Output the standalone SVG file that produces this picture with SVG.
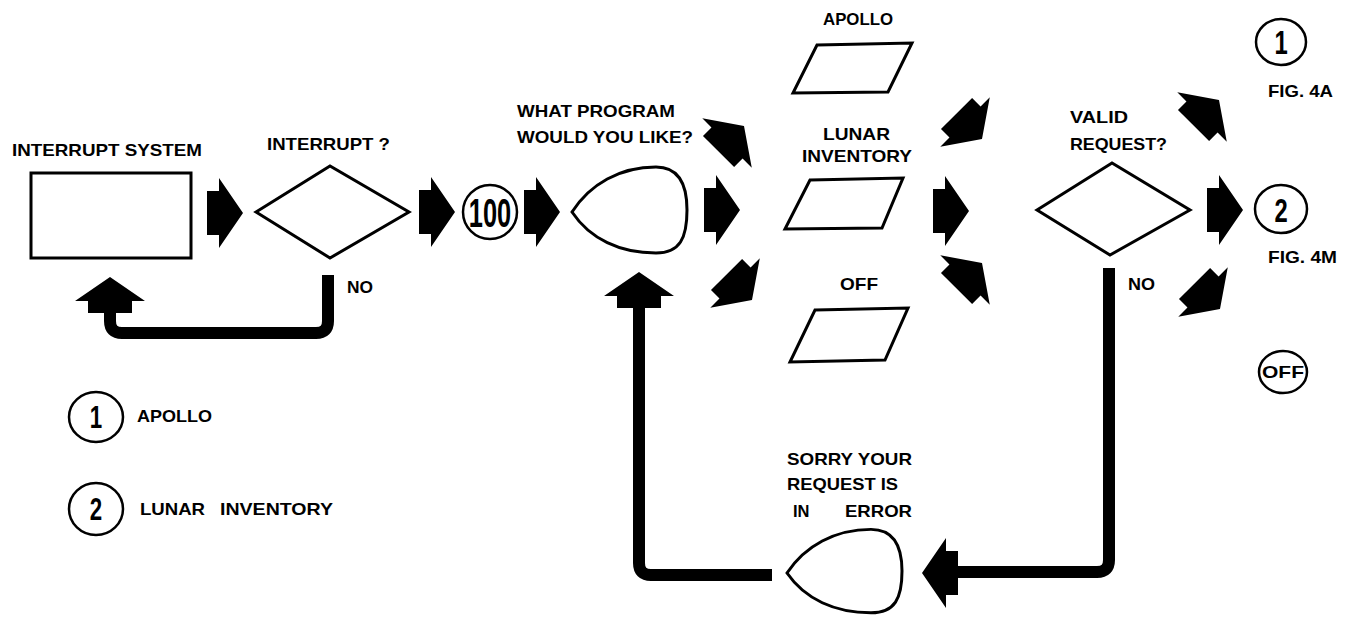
<svg xmlns="http://www.w3.org/2000/svg" width="1353" height="617" viewBox="0 0 1353 617">
  <style>
    .lbl { font-family: "Liberation Sans", Arial, sans-serif; font-weight: bold; font-size: 16.5px; fill: #000; }
    .num { font-family: "Liberation Sans", Arial, sans-serif; font-weight: bold; fill: #000; text-anchor: middle; }
    .shape { fill: #fff; stroke: #000; stroke-width: 3; stroke-linejoin: miter; }
    .ring { fill: #fff; stroke: #000; stroke-width: 2.5; }
    .flow { fill: none; stroke: #000; stroke-width: 12; stroke-linecap: butt; }
    .arrow { fill: #000; }
  </style>
  <defs>
    <!-- block arrow, tip at the origin, pointing along +x -->
    <path id="fat" d="M0,0 L-24,-35 L-24,-22 L-36,-22 L-36,22 L-24,22 L-24,35 Z"/>
    <!-- egg-shaped display symbol, pointed end at the origin -->
    <path id="drop" d="M0,0 C18,-28 48,-45 84,-45 C107,-45 115,-27 115,-2 C115,26 108,41 84,41 C48,41 18,27 0,0 Z"/>
  </defs>

  <rect width="1353" height="617" fill="#fff"/>

  <!-- connectors -->
  <g id="connectors">
    <path class="flow" d="M328,275 V321 Q328,333 316,333 H122 Q110,333 110,321 V306"/>
    <path class="flow" d="M772,575 H651 Q639,575 639,563 V303"/>
    <path class="flow" d="M1109,268 V560 Q1109,572 1097,572 H953"/>
    <g class="arrow">
      <use href="#fat" transform="translate(243,213)"/>
      <use href="#fat" transform="translate(455,212)"/>
      <use href="#fat" transform="translate(560,212)"/>
      <use href="#fat" transform="translate(740,210)"/>
      <use href="#fat" transform="translate(969,211)"/>
      <use href="#fat" transform="translate(1243,210)"/>
      <use href="#fat" transform="translate(744,126) rotate(-45)"/>
      <use href="#fat" transform="translate(752,300) rotate(45)"/>
      <use href="#fat" transform="translate(982,139) rotate(45)"/>
      <use href="#fat" transform="translate(982,263) rotate(-45)"/>
      <use href="#fat" transform="translate(1219,100) rotate(-45)"/>
      <use href="#fat" transform="translate(1220,309) rotate(45)"/>
      <use href="#fat" transform="translate(110,277) rotate(-90)"/>
      <use href="#fat" transform="translate(639,272) rotate(-90)"/>
      <use href="#fat" transform="translate(922,573) rotate(180)"/>
    </g>
    <text class="lbl" x="347" y="293" textLength="26" lengthAdjust="spacingAndGlyphs">NO</text>
    <text class="lbl" x="1128" y="290" textLength="27" lengthAdjust="spacingAndGlyphs">NO</text>
  </g>

  <!-- interrupt system process box -->
  <g id="interrupt-system">
    <text class="lbl" x="12" y="156" textLength="190" lengthAdjust="spacingAndGlyphs">INTERRUPT SYSTEM</text>
    <rect class="shape" x="31" y="173" width="160" height="85"/>
  </g>

  <!-- interrupt decision -->
  <g id="interrupt-decision">
    <text class="lbl" x="267" y="150" textLength="123" lengthAdjust="spacingAndGlyphs">INTERRUPT ?</text>
    <polygon class="shape" points="256,212 330,166 409,212 330,258"/>
  </g>

  <!-- connector 100 -->
  <g id="entry-100">
    <circle class="ring" cx="490" cy="212" r="27"/>
    <text class="num" font-size="41" transform="translate(490,227) scale(0.62,1)">100</text>
  </g>

  <!-- program prompt display -->
  <g id="prompt-display">
    <text class="lbl" x="517" y="117" textLength="158" lengthAdjust="spacingAndGlyphs">WHAT PROGRAM</text>
    <text class="lbl" x="517" y="143" textLength="176" lengthAdjust="spacingAndGlyphs">WOULD YOU LIKE?</text>
    <use href="#drop" class="shape" transform="translate(572,212)"/>
  </g>

  <!-- input options -->
  <g id="input-apollo">
    <text class="lbl" x="823" y="25" textLength="70" lengthAdjust="spacingAndGlyphs">APOLLO</text>
    <polygon class="shape" points="817,45 912,43 888,92 793,93"/>
  </g>
  <g id="input-lunar">
    <text class="lbl" x="823" y="140" textLength="67" lengthAdjust="spacingAndGlyphs">LUNAR</text>
    <text class="lbl" x="802" y="162" textLength="110" lengthAdjust="spacingAndGlyphs">INVENTORY</text>
    <polygon class="shape" points="810,180 903,178 882,228 785,229"/>
  </g>
  <g id="input-off">
    <text class="lbl" x="840" y="290" textLength="38" lengthAdjust="spacingAndGlyphs">OFF</text>
    <polygon class="shape" points="815,310 908,308 885,360 790,362"/>
  </g>

  <!-- request validity decision -->
  <g id="valid-decision">
    <text class="lbl" x="1070" y="123" textLength="58" lengthAdjust="spacingAndGlyphs">VALID</text>
    <text class="lbl" x="1070" y="150" textLength="97" lengthAdjust="spacingAndGlyphs">REQUEST?</text>
    <polygon class="shape" points="1037,210 1112,163 1190,210 1110,255"/>
  </g>

  <!-- error display -->
  <g id="error-display">
    <text class="lbl" x="787" y="465" textLength="125" lengthAdjust="spacingAndGlyphs">SORRY YOUR</text>
    <text class="lbl" x="787" y="490" textLength="111" lengthAdjust="spacingAndGlyphs">REQUEST IS</text>
    <text class="lbl" y="517"><tspan x="793">IN</tspan><tspan x="845" textLength="67" lengthAdjust="spacingAndGlyphs">ERROR</tspan></text>
    <use href="#drop" class="shape" transform="translate(787,573) scale(1,0.97)"/>
  </g>

  <!-- off-page connectors -->
  <g id="goto-1">
    <ellipse class="ring" cx="1281" cy="42" rx="25" ry="23"/>
    <text class="num" font-size="34" transform="translate(1281,54) scale(0.7,1)">1</text>
    <text class="lbl" x="1268" y="97" textLength="65" lengthAdjust="spacingAndGlyphs">FIG. 4A</text>
  </g>
  <g id="goto-2">
    <ellipse class="ring" cx="1281" cy="209" rx="26" ry="24"/>
    <text class="num" font-size="34" transform="translate(1281,222) scale(0.7,1)">2</text>
    <text class="lbl" x="1268" y="263" textLength="69" lengthAdjust="spacingAndGlyphs">FIG. 4M</text>
  </g>
  <g id="goto-off">
    <ellipse class="ring" cx="1283" cy="372" rx="24" ry="21"/>
    <text class="lbl" x="1262" y="378" font-size="18" textLength="42" lengthAdjust="spacingAndGlyphs">OFF</text>
  </g>

  <!-- legend -->
  <g id="legend-1">
    <ellipse class="ring" cx="96" cy="417" rx="27" ry="25"/>
    <text class="num" font-size="31" transform="translate(96,428) scale(0.72,1)">1</text>
    <text class="lbl" x="137" y="422" textLength="75" lengthAdjust="spacingAndGlyphs">APOLLO</text>
  </g>
  <g id="legend-2">
    <ellipse class="ring" cx="96" cy="509" rx="27" ry="26"/>
    <text class="num" font-size="31" transform="translate(96,520) scale(0.72,1)">2</text>
    <text class="lbl" y="515"><tspan x="140" textLength="65" lengthAdjust="spacingAndGlyphs">LUNAR</tspan><tspan x="220" textLength="113" lengthAdjust="spacingAndGlyphs">INVENTORY</tspan></text>
  </g>
</svg>
